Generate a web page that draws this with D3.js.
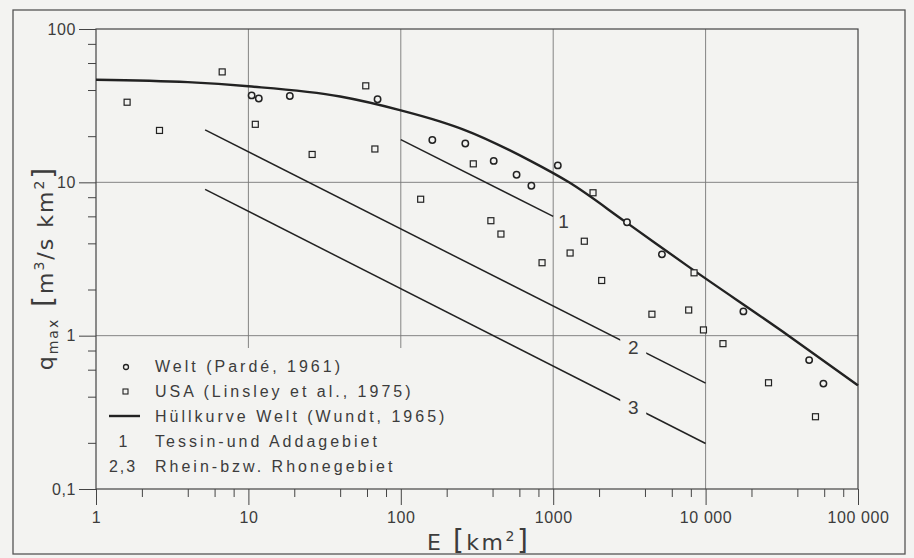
<!DOCTYPE html>
<html>
<head>
<meta charset="utf-8">
<script src="https://cdn.jsdelivr.net/npm/d3@7"></script>
<style>
  body { margin: 0; background: #f3f3f1; }
  svg { display: block; }
</style>
</head>
<body>
<script>
// axis ticks
const xTicks = [1, 10, 100, 1000, 10000, 100000];
const xTickLabels = ["1", "10", "100", "1000", "10 000", "100 000"];
const yTicks = [0.1, 1, 10, 100];
const yTickLabels = ["0,1", "1", "10", "100"];
const xGrid = [10, 100, 1000, 10000];
const yGrid = [1, 10];

// Welt (Pardé, 1961) - circles
const weltE = [10.5, 11.7, 18.7, 70.4, 161, 265, 407, 575, 719, 1072, 3050, 5170, 17700, 47800, 59300];
const weltQ = [36.9, 35.2, 36.6, 34.8, 18.9, 17.9, 13.8, 11.2, 9.49, 12.9, 5.49, 3.39, 1.44, 0.693, 0.487];

// USA (Linsley et al., 1975) - squares
const usaE = [1.6, 2.61, 6.73, 11.1, 26.2, 58.9, 67.6, 135, 299, 390, 454, 845, 1291, 1600, 1825, 2080, 4444, 7745, 8400, 9680, 13000, 25870, 52600];
const usaQ = [33.3, 21.8, 52.5, 23.9, 15.2, 42.6, 16.5, 7.76, 13.2, 5.62, 4.6, 2.99, 3.46, 4.13, 8.55, 2.29, 1.38, 1.47, 2.57, 1.09, 0.887, 0.493, 0.296];

// Hüllkurve Welt (Wundt, 1965)
const envE = [1, 4, 10, 40, 100, 180, 258, 709, 1270, 3000, 7680, 35000, 100000];
const envQ = [46.7, 45.0, 42.3, 36.3, 29.5, 25, 22.1, 13.8, 10, 5.5, 2.83, 1.0, 0.474];

// regional lines 1, 2, 3
const line1E = [100, 1000], line1Q = [19, 6.0];
const line2E = [5.2, 10000], line2Q = [22, 0.49];
const line3E = [5.2, 10000], line3Q = [9.0, 0.198];
const lineLabels = ["1", "2", "3"];
const lineLabelE = [1170, 3350, 3350];
const lineLabelQ = [5.6, 0.845, 0.345];

const legendItems = ["Welt (Pardé, 1961)", "USA (Linsley et al., 1975)", "Hüllkurve Welt (Wundt, 1965)", "Tessin-und Addagebiet", "Rhein-bzw. Rhonegebiet"];

const W = 914, H = 558;
const bg = "#f3f3f1", ink = "#222", txt = "#3c3c3c";
const pLeft = 96, pRight = 858, pTop = 29, pBottom = 489;

const svg = d3.select("body").append("svg").attr("width", W).attr("height", H);

const x = d3.scaleLog().domain([1, 100000]).range([pLeft, pRight]);
const y = d3.scaleLog().domain([0.1, 100]).range([pBottom, pTop]);

// outer frame
svg.append("rect").attr("x", 13).attr("y", 10).attr("width", 892).attr("height", 544)
    .attr("fill", "none").attr("stroke", "#555").attr("stroke-width", 1.3);

// grid
svg.selectAll(".gx").data(xGrid).enter().append("line")
    .attr("x1", d => x(d)).attr("x2", d => x(d)).attr("y1", pTop).attr("y2", pBottom)
    .attr("stroke", "#777").attr("stroke-width", 0.9);
svg.selectAll(".gy").data(yGrid).enter().append("line")
    .attr("x1", pLeft).attr("x2", pRight).attr("y1", d => y(d)).attr("y2", d => y(d))
    .attr("stroke", "#777").attr("stroke-width", 0.9);

// legend area hides the grid
svg.append("rect").attr("x", pLeft).attr("y", 348).attr("width", 365).attr("height", pBottom - 348)
    .attr("fill", bg);

// plot box
svg.append("rect").attr("x", pLeft).attr("y", pTop).attr("width", pRight - pLeft).attr("height", pBottom - pTop)
    .attr("fill", "none").attr("stroke", "#444").attr("stroke-width", 1.2);

// axes
const decades = [1, 10, 100, 1000, 10000];
const xMinor = decades.flatMap(d => [2, 4, 6, 8].map(m => m * d));
const yMinor = [0.1, 1, 10].flatMap(d => [2, 4, 6, 8].map(m => m * d));

function styleAxis(g) {
    g.select(".domain").remove();
    g.selectAll(".tick line").attr("stroke", "#444").attr("stroke-width", 1);
    g.selectAll(".tick text").attr("fill", txt).style("font-family", "Liberation Sans, Arial, sans-serif")
        .style("font-size", "16px").style("letter-spacing", "0.6px");
}

svg.append("g").attr("transform", `translate(0,${pBottom})`)
    .call(d3.axisBottom(x).tickValues(xTicks).tickSize(16).tickPadding(7)
        .tickFormat((d, i) => xTickLabels[i]))
    .call(styleAxis);
svg.append("g").attr("transform", `translate(0,${pBottom})`)
    .call(d3.axisBottom(x).tickValues(xMinor).tickSize(8).tickFormat(""))
    .call(styleAxis);
svg.append("g").attr("transform", `translate(${pLeft},0)`)
    .call(d3.axisLeft(y).tickValues(yTicks).tickSize(17).tickPadding(3)
        .tickFormat((d, i) => yTickLabels[i]))
    .call(styleAxis);
svg.append("g").attr("transform", `translate(${pLeft},0)`)
    .call(d3.axisLeft(y).tickValues(yMinor).tickSize(8).tickFormat(""))
    .call(styleAxis);

// axis titles
const titleFont = "DejaVu Sans, sans-serif";
const xt = svg.append("text").attr("x", 427).attr("y", 550).attr("fill", txt)
    .style("font-family", titleFont).style("font-size", "22px").style("letter-spacing", "2.5px");
xt.append("tspan").text("E ");
xt.append("tspan").style("font-size", "28px").text("[");
xt.append("tspan").text("km");
xt.append("tspan").attr("dy", -9).style("font-size", "14px").text("2");
xt.append("tspan").attr("dy", 9).style("font-size", "28px").text("]");

const yt = svg.append("text").attr("transform", "translate(53,268) rotate(-90)")
    .attr("text-anchor", "middle").attr("fill", txt)
    .style("font-family", titleFont).style("font-size", "22px").style("letter-spacing", "2px");
yt.append("tspan").text("q");
yt.append("tspan").attr("dy", 5).style("font-size", "14px").text("max");
yt.append("tspan").attr("dy", -5).style("font-size", "28px").text(" [");
yt.append("tspan").text("m");
yt.append("tspan").attr("dy", -9).style("font-size", "14px").text("3");
yt.append("tspan").attr("dy", 9).text("/s km");
yt.append("tspan").attr("dy", -9).style("font-size", "14px").text("2");
yt.append("tspan").attr("dy", 9).style("font-size", "28px").text("]");

// regional lines
const straight = d3.line().x(d => x(d[0])).y(d => y(d[1]));
[[line1E, line1Q], [line2E, line2Q], [line3E, line3Q]].forEach(([es, qs]) => {
    svg.append("path").datum(es.map((e, i) => [e, qs[i]]))
        .attr("d", straight).attr("fill", "none").attr("stroke", ink).attr("stroke-width", 1.5);
});

// labels 1,2,3 (2 and 3 break their line)
lineLabels.forEach((t, i) => {
    const px = x(lineLabelE[i]), py = y(lineLabelQ[i]);
    if (i > 0) {
        svg.append("rect").attr("x", px - 13).attr("y", py - 9).attr("width", 26).attr("height", 18).attr("fill", bg);
    }
    svg.append("text").attr("x", px).attr("y", py + 7).attr("text-anchor", "middle").attr("fill", txt)
        .style("font-family", "Liberation Sans, Arial, sans-serif").style("font-size", "19px").text(t);
});

// envelope curve
const envLine = d3.line().x(d => x(d[0])).y(d => y(d[1])).curve(d3.curveMonotoneX);
svg.append("path").datum(envE.map((e, i) => [e, envQ[i]]))
    .attr("d", envLine).attr("fill", "none").attr("stroke", ink).attr("stroke-width", 2.4);

// data points
svg.selectAll(".sq").data(usaE.map((e, i) => [e, usaQ[i]])).enter().append("rect")
    .attr("x", d => x(d[0]) - 3).attr("y", d => y(d[1]) - 3).attr("width", 6).attr("height", 6)
    .attr("fill", bg).attr("stroke", ink).attr("stroke-width", 1.2);
svg.selectAll(".ci").data(weltE.map((e, i) => [e, weltQ[i]])).enter().append("circle")
    .attr("cx", d => x(d[0])).attr("cy", d => y(d[1])).attr("r", 3.2)
    .attr("fill", bg).attr("stroke", ink).attr("stroke-width", 1.5);

// legend
const lg = svg.append("g");
const rowY = [372, 397, 422, 447, 472];
lg.selectAll("text.item").data(legendItems).enter().append("text")
    .attr("x", 155).attr("y", (d, i) => rowY[i]).attr("fill", txt)
    .style("font-family", "Liberation Sans, Arial, sans-serif").style("font-size", "16px")
    .style("letter-spacing", "3px").text(d => d);
lg.append("circle").attr("cx", 126).attr("cy", rowY[0] - 5).attr("r", 2.5)
    .attr("fill", "none").attr("stroke", ink).attr("stroke-width", 1.3);
lg.append("rect").attr("x", 123).attr("y", rowY[1] - 8).attr("width", 5).attr("height", 5)
    .attr("fill", "none").attr("stroke", ink).attr("stroke-width", 1.1);
lg.append("line").attr("x1", 109).attr("x2", 140).attr("y1", rowY[2] - 6).attr("y2", rowY[2] - 6)
    .attr("stroke", ink).attr("stroke-width", 2.4);
lg.append("text").attr("x", 123).attr("y", rowY[3]).attr("text-anchor", "middle").attr("fill", txt)
    .style("font-family", "Liberation Sans, Arial, sans-serif").style("font-size", "16px").text("1");
lg.append("text").attr("x", 123).attr("y", rowY[4]).attr("text-anchor", "middle").attr("fill", txt)
    .style("font-family", "Liberation Sans, Arial, sans-serif").style("font-size", "16px")
    .style("letter-spacing", "2px").text("2,3");
</script>
</body>
</html>
